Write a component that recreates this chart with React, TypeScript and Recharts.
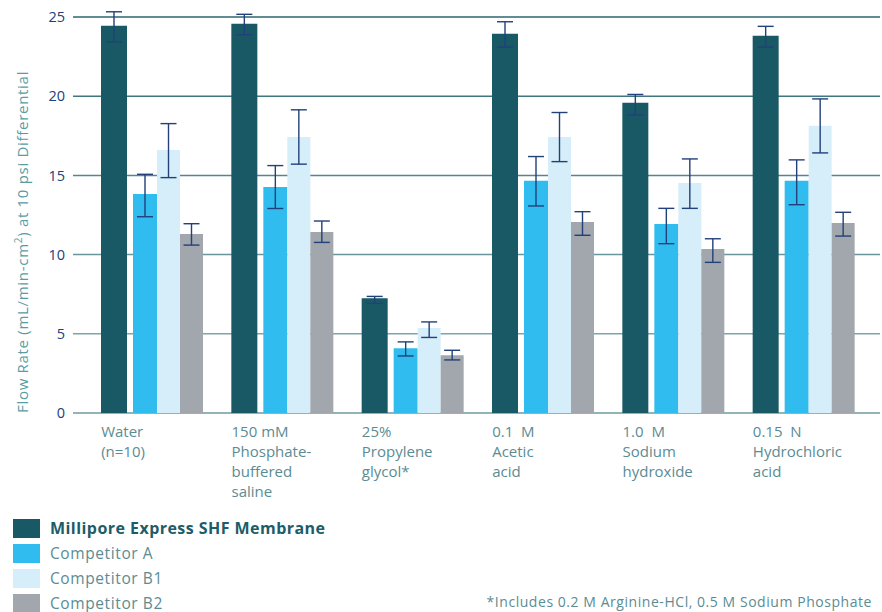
import React from "react";
import { BarChart, Bar, XAxis, YAxis, CartesianGrid, ErrorBar } from "recharts";

// categories (multi-line labels split on \n)
const categories = [
  "Water\n(n=10)",
  "150 mM\nPhosphate-\nbuffered\nsaline",
  "25%\nPropylene\nglycol*",
  "0.1  M\nAcetic\nacid",
  "1.0  M\nSodium\nhydroxide",
  "0.15  N\nHydrochloric\nacid",
];

// mean flow rates
const shf = [24.45, 24.58, 7.25, 23.94, 19.58, 23.82];
const compA = [13.83, 14.27, 4.09, 14.66, 11.93, 14.66];
const compB1 = [16.61, 17.43, 5.36, 17.43, 14.52, 18.13];
const compB2 = [11.3, 11.43, 3.65, 12.06, 10.35, 12.0];

// error bar ends (low / high)
const shfLow = [23.44, 23.88, 6.92, 23.1, 18.82, 23.1];
const shfHigh = [25.33, 25.17, 7.36, 24.7, 20.11, 24.41];
const aLow = [12.39, 12.91, 3.6, 13.07, 10.69, 13.15];
const aHigh = [15.07, 15.62, 4.49, 16.19, 12.92, 15.98];
const b1Low = [14.86, 15.71, 4.77, 15.87, 12.92, 16.42];
const b1High = [18.27, 19.14, 5.75, 18.97, 16.04, 19.83];
const b2Low = [10.6, 10.77, 3.35, 11.22, 9.51, 11.17];
const b2High = [11.95, 12.12, 3.96, 12.71, 11.0, 12.67];

const yTicks = [0, 5, 10, 15, 20, 25];

const seriesNames = [
  "Millipore Express SHF Membrane",
  "Competitor A",
  "Competitor B1",
  "Competitor B2",
];
const colors = ["#195965", "#30bcee", "#d6eef9", "#a2a6ad"];

const data = categories.map((c, i) => ({
  name: c,
  shf: shf[i],
  a: compA[i],
  b1: compB1[i],
  b2: compB2[i],
  shfErr: [shf[i] - shfLow[i], shfHigh[i] - shf[i]],
  aErr: [compA[i] - aLow[i], aHigh[i] - compA[i]],
  b1Err: [compB1[i] - b1Low[i], b1High[i] - compB1[i]],
  b2Err: [compB2[i] - b2Low[i], b2High[i] - compB2[i]],
}));

const FONT = "'Open Sans', sans-serif";
const ERR = "#22407a";

function CategoryTick(props: any) {
  const { x, y, payload } = props;
  const lines = String(payload.value).split("\n");
  return (
    <text
      x={x - 51}
      y={y + 16}
      fill="#5b8c93"
      fontSize={15}
      fontFamily={FONT}
      textAnchor="start"
      style={{ whiteSpace: "pre" }}
    >
      {lines.map((l, i) => (
        <tspan key={i} x={x - 51} dy={i === 0 ? 0 : 20}>
          {l}
        </tspan>
      ))}
    </text>
  );
}

function GridLine(props: any) {
  const { x1, x2, y1, y2 } = props;
  const t = Math.max(0, Math.min(1, (y1 - 17) / (413 - 17)));
  const from = [0x2c, 0x66, 0x72];
  const to = [0x92, 0xb4, 0xb8];
  const c = from.map((f, k) => Math.round(f + (to[k] - f) * t));
  return (
    <line
      x1={x1}
      x2={x2}
      y1={y1}
      y2={y2}
      stroke={`rgb(${c[0]},${c[1]},${c[2]})`}
      strokeWidth={t > 0.99 ? 2 : 1.5}
    />
  );
}

export default function App() {
  return (
    <div
      style={{
        position: "absolute",
        left: 0,
        top: 0,
        width: 882,
        height: 612,
        background: "#fff",
        fontFamily: FONT,
      }}
    >
      <BarChart
        width={882}
        height={612}
        data={data}
        margin={{ top: 17, right: 2, bottom: 169, left: 0 }}
        barGap={0}
      >
        <CartesianGrid vertical={false} horizontal={<GridLine />} />
        <XAxis
          dataKey="name"
          axisLine={false}
          tickLine={false}
          padding={{ left: 14, right: 11 }}
          interval={0}
          height={30}
          tick={<CategoryTick />}
        />
        <YAxis
          width={73}
          domain={[0, 25]}
          allowDataOverflow
          ticks={yTicks}
          axisLine={false}
          tickLine={false}
          tick={{ fill: "#23407a", fontSize: 14.5, fontFamily: FONT }}
          label={() => (
            <text
              x={28}
              y={413}
              transform="rotate(-90 28 413)"
              fill="#5a9ca4"
              fontSize={15}
              letterSpacing={0.7}
              fontFamily={FONT}
              textAnchor="start"
            >
              Flow Rate (mL/min-cm
              <tspan dy={-6} fontSize={10}>
                2
              </tspan>
              <tspan dy={6}>) at 10 psi Differential</tspan>
            </text>
          )}
        />
        <Bar dataKey="shf" fill={colors[0]} barSize={26} isAnimationActive={false}>
          <ErrorBar dataKey="shfErr" width={8} stroke={ERR} strokeWidth={1.4} direction="y" />
        </Bar>
        <Bar dataKey="gap" fill="none" barSize={6} isAnimationActive={false} />
        <Bar dataKey="a" fill={colors[1]} barSize={24} isAnimationActive={false}>
          <ErrorBar dataKey="aErr" width={8} stroke={ERR} strokeWidth={1.4} direction="y" />
        </Bar>
        <Bar dataKey="b1" fill={colors[2]} barSize={23} isAnimationActive={false}>
          <ErrorBar dataKey="b1Err" width={8} stroke={ERR} strokeWidth={1.4} direction="y" />
        </Bar>
        <Bar dataKey="b2" fill={colors[3]} barSize={23} isAnimationActive={false}>
          <ErrorBar dataKey="b2Err" width={8} stroke={ERR} strokeWidth={1.4} direction="y" />
        </Bar>
      </BarChart>

      {/* legend */}
      <div style={{ position: "absolute", left: 13, top: 519 }}>
        {seriesNames.map((n, i) => (
          <div
            key={n}
            style={{ display: "flex", alignItems: "center", height: 25 }}
          >
            <div
              style={{
                width: 27,
                height: 19,
                background: colors[i],
                marginRight: 10,
                alignSelf: "flex-start",
              }}
            />
            <span
              style={{
                fontSize: i === 0 ? 16 : 15.5,
                fontWeight: i === 0 ? 700 : 400,
                letterSpacing: i === 0 ? 0.45 : 0.6,
                color: i === 0 ? "#1d5c68" : "#5b8c93",
                lineHeight: "18px",
                alignSelf: "flex-start",
              }}
            >
              {n}
            </span>
          </div>
        ))}
      </div>

      {/* footnote */}
      <div
        style={{
          position: "absolute",
          right: 10,
          top: 592,
          fontSize: 14,
          letterSpacing: 0.55,
          color: "#5b8c93",
          whiteSpace: "nowrap",
        }}
      >
        *Includes 0.2 M Arginine-HCl, 0.5 M Sodium Phosphate
      </div>
    </div>
  );
}
